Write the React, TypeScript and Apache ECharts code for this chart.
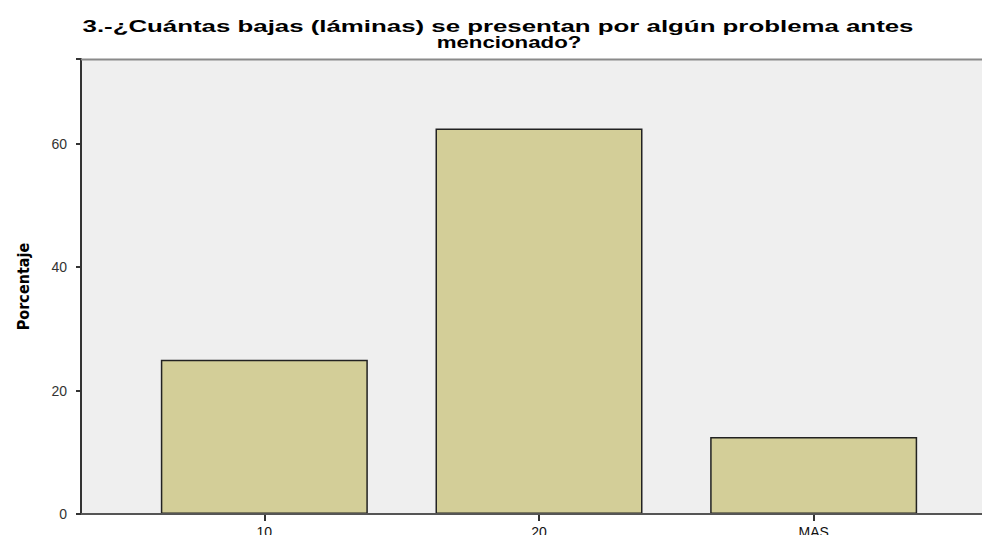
import React, { useEffect, useRef } from "react";
import * as echarts from "echarts";

const categories = ["10", "20", "MAS"];
const percentages = [25, 62.5, 12.5];
const yTicks = [0, 20, 40, 60];
const titleLines = ["3.-¿Cuántas bajas (láminas) se presentan por algún problema antes", "mencionado?"];
const yAxisName = "Porcentaje";

export default function App() {
  const ref = useRef<HTMLDivElement>(null);
  useEffect(() => {
    document.body.style.margin = "0";
    const chart = echarts.init(ref.current!, null, { renderer: "svg" });
    chart.setOption({
      animation: false,
      backgroundColor: "#ffffff",
      grid: { left: 127, right: 31, top: 59, bottom: 21, containLabel: false, outerBoundsMode: "none" },
      graphic: [
        {
          type: "rect",
          z: -10,
          shape: { x: 81, y: 59, width: 920, height: 455 },
          style: { fill: "#efefef" },
        },
        {
          type: "line",
          z: 10,
          shape: { x1: 81, y1: 59.5, x2: 982, y2: 59.5 },
          style: { stroke: "#8a8a8a", lineWidth: 2 },
        },
        {
          type: "line",
          z: 10,
          shape: { x1: 81, y1: 514, x2: 982, y2: 514 },
          style: { stroke: "#555555", lineWidth: 2 },
        },
        {
          type: "text",
          x: 498,
          y: 26,
          scaleX: 1.52,
          style: {
            text: titleLines[0],
            fontFamily: "Liberation Sans",
            fontWeight: "bold",
            fontSize: 17,
            fill: "#000",
            align: "center",
            verticalAlign: "middle",
          },
        },
        {
          type: "text",
          x: 509,
          y: 42,
          scaleX: 1.31,
          style: {
            text: titleLines[1],
            fontFamily: "Liberation Sans",
            fontWeight: "bold",
            fontSize: 17,
            fill: "#000",
            align: "center",
            verticalAlign: "middle",
          },
        },
      ],
      xAxis: {
        type: "category",
        data: categories,
        axisLine: { show: false },
        axisTick: { show: true, alignWithLabel: true, length: 7, lineStyle: { color: "#333", width: 2 } },
        axisLabel: { color: "#111", fontSize: 14, fontFamily: "Liberation Sans", margin: 11 },
      },
      yAxis: {
        type: "value",
        min: yTicks[0],
        max: 73.75,
        interval: yTicks[1] - yTicks[0],
        offset: 46,
        splitLine: { show: false },
        axisLine: { show: true, lineStyle: { color: "#333", width: 2 } },
        axisTick: { show: true, length: 5, lineStyle: { color: "#333", width: 2 } },
        axisLabel: {
          color: "#333",
          fontSize: 14,
          fontFamily: "Liberation Sans",
          margin: 14,
          formatter: (v: number) => (yTicks.includes(v) ? String(v) : ""),
        },
        name: yAxisName,
        nameLocation: "middle",
        nameRotate: 90,
        nameGap: 50,
        nameTextStyle: {
          fontFamily: "'Liberation Sans Narrow', 'DejaVu Sans Condensed', 'Liberation Sans', sans-serif",
          fontWeight: "bold",
          fontSize: 16,
          color: "#000",
        },
      },
      series: [
        {
          type: "bar",
          data: percentages,
          barWidth: 207,
          itemStyle: { color: "#d3ce98", borderColor: "#222", borderWidth: 1.5 },
        },
      ],
    });
    return () => chart.dispose();
  }, []);
  return <div ref={ref} style={{ width: 982, height: 535 }} />;
}
